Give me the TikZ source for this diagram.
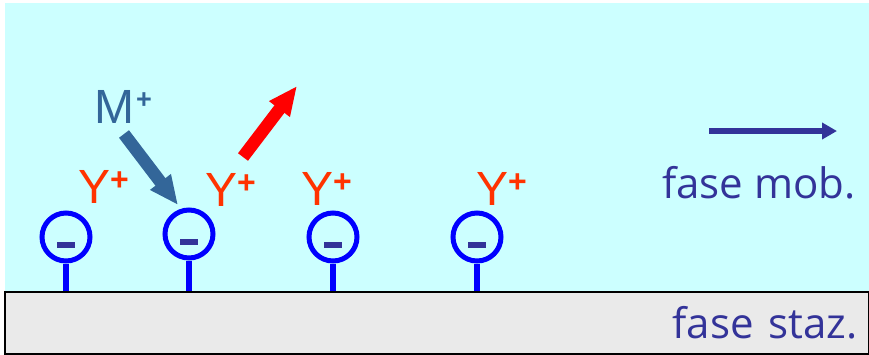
\documentclass[tikz,border=0pt]{standalone}
\usepackage{fontspec}
\setmainfont{Liberation Sans}
\newfontfamily\phasefont{Open Sans}
\usetikzlibrary{arrows.meta,positioning}

\definecolor{mobcyan}{HTML}{CCFFFF}
\definecolor{stazgray}{HTML}{EAEAEA}
\definecolor{ionred}{HTML}{FF3300}
\definecolor{ionsteel}{HTML}{336699}
\definecolor{phaseblue}{HTML}{333399}
\definecolor{siteblue}{HTML}{0000FF}

% superscript charge
\newcommand{\chargeplus}[2]{\raisebox{#1}{\fontsize{#2}{#2}\selectfont\bfseries +}}

\begin{document}
\begin{tikzpicture}[x=1pt, y=-1pt,
		site/.style={circle, draw=siteblue, line width=5pt, minimum size=48pt, inner sep=0pt},
		stem/.style={draw=siteblue, line width=5.5pt},
		ion/.style={text=ionred, font=\fontsize{48}{48}\selectfont, inner sep=0pt, anchor=base west},
		phase/.style={text=phaseblue, font=\phasefont\fontsize{42}{42}\selectfont, inner sep=0pt, anchor=base east},
		bigarr/.style={line width=12.5pt, -{Triangle[length=29pt,width=24pt]}}
	]
	\useasboundingbox (0,0) rectangle (869,354);
	\fill[mobcyan] (5,3) rectangle (869,291);
	\node[draw=black, fill=stazgray, line width=1.5pt, minimum width=864pt, minimum height=62pt, inner sep=0pt, anchor=north west] (staz) at (4,291) {};
	
	% binding sites
	\foreach \n/\x/\y in {s1/66/237, s2/189/234, s3/333/237, s4/477/237} {
		\node[site] (\n) at (\x,\y) {};
		\fill[phaseblue] (\x-9,\y+5) rectangle ++(18,6);
		\draw[stem] (\n.south) -- (\n.south |- staz.north);
	}
	
	% counter ions
	\node[ion] (y1) at (78,203) {Y\chargeplus{13pt}{32}};
	\node[ion] (y2) at (205,206) {Y\chargeplus{13pt}{32}};
	\node[ion] (y3) at (301,205) {Y\chargeplus{13pt}{32}};
	\node[ion] (y4) at (476,205) {Y\chargeplus{13pt}{32}};
	\node[text=ionsteel, font=\fontsize{48}{48}\selectfont, inner sep=0pt, anchor=base west] (m) at (94,123) {M\hspace{2pt}\chargeplus{15pt}{27}};
	
	\coordinate (mtail) at (124,134);
	\coordinate (mtip) at (178,205);
	\coordinate (ytail) at (243,157);
	\coordinate (ytip) at (297,86);
	\draw[bigarr, ionsteel] (mtail) -- (mtip);
	\draw[bigarr, red] (ytail) -- (ytip);
	
	% phases
	\coordinate (flowtail) at (709,131);
	\coordinate (flowtip) at (837,131);
	\draw[phaseblue, line width=6pt, -{Triangle[length=15pt,width=16pt]}] (flowtail) -- (flowtip);
	\node[phase] (mob) at (856,198) {fase mob.};
	\node[phase] (stazlabel) at (858,338) {fase\hspace{4pt} staz.};
\end{tikzpicture}
\end{document}
